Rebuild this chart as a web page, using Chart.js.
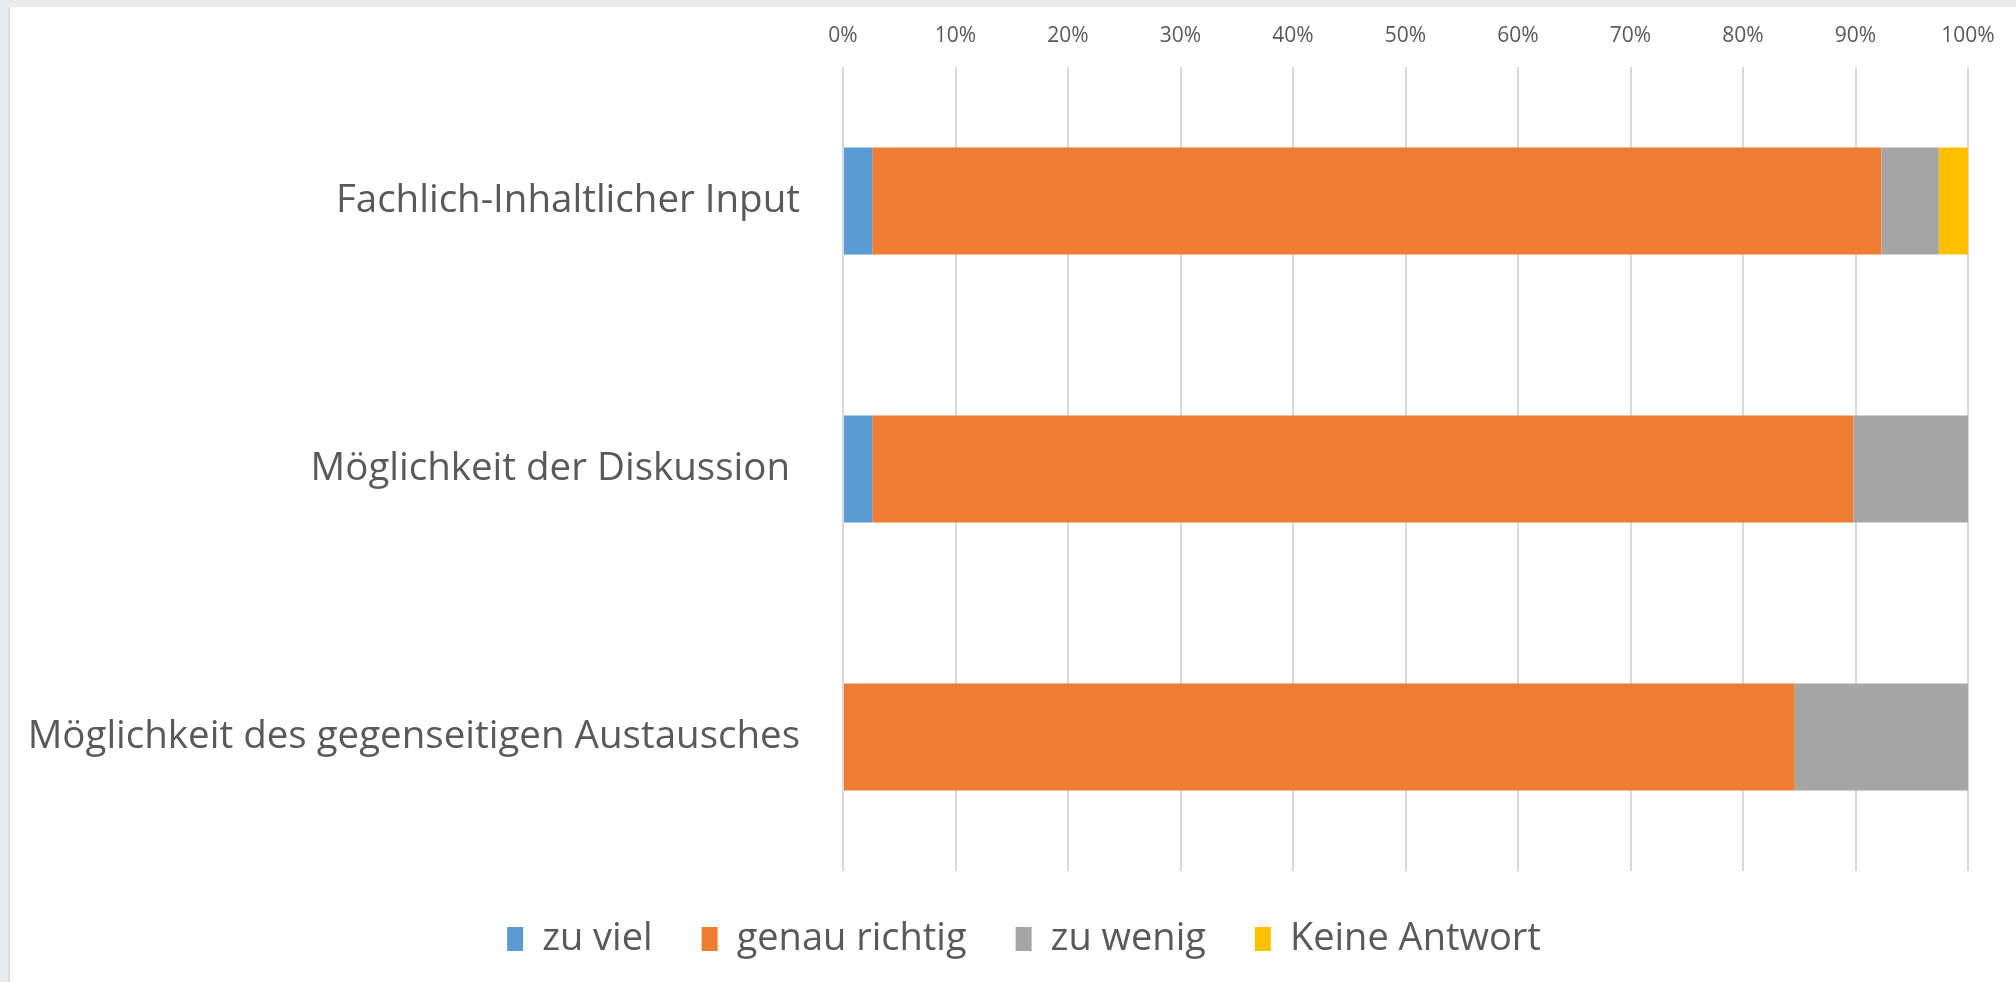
<!DOCTYPE html>
<html>
<head>
<meta charset="utf-8">
<script src="https://cdn.jsdelivr.net/npm/chart.js@4/dist/chart.umd.min.js"></script>
<style>
    html, body { margin: 0; padding: 0; background: #e9eaec; }
    #frame {
        position: absolute; left: 8px; top: 7px; right: 0; bottom: 0;
        background: #ffffff; border-left: 2px solid #dcdcdc;
    }
    #chart1 { display: block; }
</style>
</head>
<body>
<div id="frame">
    <canvas id="chart1" width="2006" height="975"></canvas>
</div>
<script>
// categories (top to bottom)
var categories = [
    'Fachlich-Inhaltlicher Input',
    'Möglichkeit der Diskussion ',
    'Möglichkeit des gegenseitigen Austausches'
];

// answer shares in percent
var zuViel       = [2.6, 2.6, 0];
var genauRichtig = [89.7, 87.2, 84.6];
var zuWenig      = [5.1, 10.2, 15.4];
var keineAntwort = [2.6, 0, 0];

// tick values of the percent axis
var tickValues = [0, 10, 20, 30, 40, 50, 60, 70, 80, 90, 100];

var textColor = '#595959';
var fontFamily = '"Open Sans", "Noto Sans", sans-serif';

function makeSet(label, data, color) {
    return {
        label: label,
        data: data,
        backgroundColor: color,
        borderWidth: 0,
        categoryPercentage: 1.0,
        barPercentage: 0.4
    };
}

// the legend is centred on the whole canvas, not on the padded area
var legendShift = {
    id: 'legendShift',
    afterLayout: function(chart) {
        if (chart.legend) {
            chart.legend.left += 35;
            chart.legend.right += 35;
        }
    }
};

var ctx = document.getElementById('chart1');
var myChart = new Chart(ctx, {
    type: 'bar',
    data: {
        labels: categories,
        datasets: [
            makeSet('zu viel', zuViel, '#5b9bd5'),
            makeSet('genau richtig', genauRichtig, '#ed7d31'),
            makeSet('zu wenig', zuWenig, '#a5a5a5'),
            makeSet('Keine Antwort', keineAntwort, '#ffc000')
        ]
    },
    plugins: [legendShift],
    options: {
        indexAxis: 'y',
        responsive: false,
        animation: false,
        devicePixelRatio: 1,
        layout: {
            padding: { left: 0, right: 48, top: 0, bottom: 14 }
        },
        scales: {
            x: {
                position: 'top',
                stacked: true,
                min: 0,
                max: 100,
                afterBuildTicks: function(scale) {
                    scale.ticks = tickValues.map(function(v) { return { value: v }; });
                },
                afterFit: function(scale) { scale.height = 60; },
                grid: { color: '#d9d9d9', lineWidth: 2, drawTicks: false },
                border: { display: false },
                ticks: {
                    padding: 18,
                    color: textColor,
                    font: { family: fontFamily, size: 21 },
                    callback: function(v) { return v + '%'; }
                }
            },
            y: {
                stacked: true,
                afterFit: function(scale) {
                    scale.width = 833;
                    // labels sit beside the bars, they need no extra room above/below
                    scale.paddingTop = 0;
                    scale.paddingBottom = 0;
                },
                grid: { display: false, drawTicks: false },
                border: { display: false },
                ticks: {
                    padding: 43,
                    color: textColor,
                    font: { family: fontFamily, size: 38.5 }
                }
            }
        },
        plugins: {
            legend: {
                position: 'bottom',
                labels: {
                    boxWidth: 16,
                    boxHeight: 24,
                    padding: 49,
                    color: textColor,
                    font: { family: fontFamily, size: 38 }
                }
            },
            tooltip: { enabled: false }
        }
    }
});
</script>
</body>
</html>
